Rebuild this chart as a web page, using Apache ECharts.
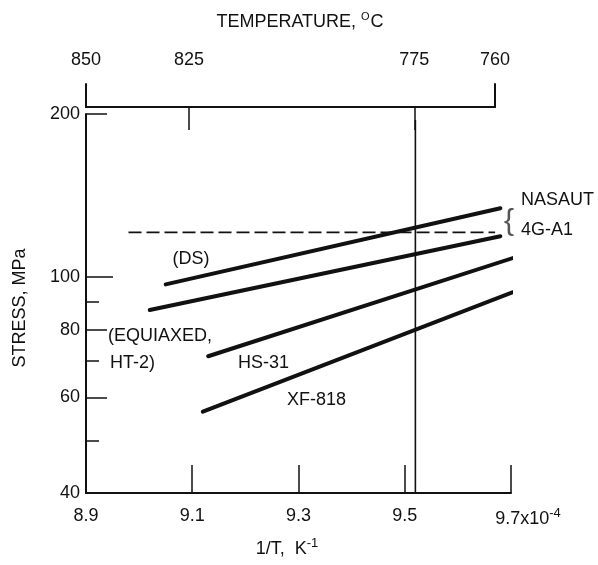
<!DOCTYPE html>
<html><head><meta charset="utf-8">
<script src="https://cdn.jsdelivr.net/npm/echarts@6/dist/echarts.min.js"></script>
<style>html,body{margin:0;padding:0;background:#fff}#c{width:598px;height:565px}</style>
</head><body><div id="c"></div>
<script>
// ---- data ----
const invT_DS = [9.05, 9.68];
const stress_DS = [97, 134];
const invT_HT2 = [9.02, 9.68];
const stress_HT2 = [87, 119];
const invT_HS31 = [9.13, 9.71];
const stress_HS31 = [71.5, 109];
const invT_XF818 = [9.12, 9.73];
const stress_XF818 = [56.5, 96];
const invT_775 = [9.52, 9.52];
const stress_775 = [40, 195];
const invT_ref = [8.98, 9.67];
const stress_ref = [121, 121];

const xTickValues = [9.1, 9.3, 9.5, 9.7];
const xLabelValues = [8.9, 9.1, 9.3, 9.5, 9.7];
const yLabelValues = [40, 60, 80, 100, 200];
const yMajorTicks = [60, 80, 200];
const yLongTicks = [100];
const yMinorTicks = [50, 70, 90];
const tempLabels = ['850', '825', '775', '760'];
const tempPos = [8.9, 9.094, 9.518, 9.67];
const tempTickPos = [9.094, 9.518];

const FONT = '"Liberation Sans", Arial, sans-serif';
const INK = '#111';

const chart = echarts.init(document.getElementById('c'), null, {renderer: 'canvas'});

function seg(x, y, style) {
  return {
    type: 'line', xAxisIndex: 0, yAxisIndex: 0,
    data: x.map((v, i) => [v, y[i]]),
    symbol: 'none', clip: false, silent: true, animation: false,
    lineStyle: Object.assign({color: INK, width: 4, cap: 'round'}, style || {})
  };
}

function tempLabel(v) {
  let best = 0;
  for (let i = 1; i < tempPos.length; i++) if (Math.abs(tempPos[i] - v) < Math.abs(tempPos[best] - v)) best = i;
  return tempLabels[best];
}

const yBase = {gridIndex: 0, type: 'log', logBase: 10, min: 40, max: 200, position: 'left', splitLine: {show: false}};

const option = {
  animation: false,
  backgroundColor: '#fff',
  grid: [
    {left: 86, top: 114, width: 425, height: 379},
    {left: 86, top: 84, width: 409, height: 23}
  ],
  xAxis: [
    {
      gridIndex: 0, type: 'value', min: 8.9, max: 9.7, position: 'bottom',
      splitLine: {show: false},
      axisLine: {lineStyle: {color: INK, width: 2}},
      axisTick: {inside: true, length: 28, customValues: xTickValues, lineStyle: {color: INK, width: 1.5}},
      axisLabel: {
        customValues: xLabelValues, margin: 14, color: INK, fontFamily: FONT, fontSize: 18,
        formatter: function (v) {
          const s = (+v).toFixed(1);
          if (Math.abs(v - 9.7) < 1e-6) return '{pad|}{a|' + s + '}{b|x10}{c|-4}';
          return s;
        },
        rich: {
          pad: {width: 34},
          a: {fontFamily: FONT, fontSize: 18, color: INK},
          b: {fontFamily: FONT, fontSize: 18, color: INK},
          c: {fontFamily: FONT, fontSize: 13, color: INK, verticalAlign: 'top', padding: [0, 0, 12, 0]}
        }
      }
    },
    {
      gridIndex: 1, type: 'value', min: 8.9, max: 9.67, position: 'top',
      splitLine: {show: false},
      axisLine: {lineStyle: {color: INK, width: 2}},
      axisTick: {inside: true, length: 23, customValues: tempTickPos, lineStyle: {color: INK, width: 1.5}},
      axisLabel: {
        customValues: tempPos, margin: 15, color: INK, fontFamily: FONT, fontSize: 18,
        formatter: tempLabel
      }
    }
  ],
  yAxis: [
    Object.assign({}, yBase, {
      axisLine: {show: true, lineStyle: {color: INK, width: 2}},
      axisTick: {show: true, inside: true, length: 21, customValues: yMajorTicks, lineStyle: {color: INK, width: 1.5}},
      axisLabel: {customValues: yLabelValues, margin: 6, color: INK, fontFamily: FONT, fontSize: 18, padding: [7, 0, 0, 0]}
    }),
    Object.assign({}, yBase, {
      axisLine: {show: false},
      axisTick: {show: true, inside: true, length: 27, customValues: yLongTicks, lineStyle: {color: INK, width: 1.5}},
      axisLabel: {show: false}
    }),
    Object.assign({}, yBase, {
      axisLine: {show: false},
      axisTick: {show: true, inside: true, length: 13, customValues: yMinorTicks, lineStyle: {color: INK, width: 1.5}},
      axisLabel: {show: false}
    }),
    {gridIndex: 1, type: 'value', min: 0, max: 1, position: 'left', splitLine: {show: false},
      axisLine: {show: true, lineStyle: {color: INK, width: 2}}, axisTick: {show: false}, axisLabel: {show: false}},
    {gridIndex: 1, type: 'value', min: 0, max: 1, position: 'right', splitLine: {show: false},
      axisLine: {show: true, lineStyle: {color: INK, width: 2}}, axisTick: {show: false}, axisLabel: {show: false}}
  ],
  series: [
    seg(invT_DS, stress_DS),
    seg(invT_HT2, stress_HT2),
    seg(invT_HS31, stress_HS31),
    seg(invT_XF818, stress_XF818),
    seg(invT_775, stress_775, {width: 1.6, cap: 'butt'}),
    seg(invT_ref, stress_ref, {width: 1.6, type: [13, 5], cap: 'butt'})
  ],
  graphic: [
    {type: 'text', x: 300, y: 22, style: {
      text: '{n|TEMPERATURE, }{s|O}{n|C}', align: 'center', verticalAlign: 'middle',
      rich: {
        n: {fontFamily: FONT, fontSize: 18, fill: INK},
        s: {fontFamily: FONT, fontSize: 11, fill: INK, verticalAlign: 'top', padding: [0, 1, 10, 0]}
      }}},
    {type: 'text', x: 20, y: 308, rotation: Math.PI / 2, style: {
      text: 'STRESS, MPa', align: 'center', verticalAlign: 'middle', fontFamily: FONT, fontSize: 18, fill: INK}},
    {type: 'text', x: 287, y: 549, style: {
      text: '{n|1/T,  K}{s|-1}', align: 'center', verticalAlign: 'middle',
      rich: {
        n: {fontFamily: FONT, fontSize: 18, fill: INK},
        s: {fontFamily: FONT, fontSize: 13, fill: INK, verticalAlign: 'top', padding: [0, 0, 12, 0]}
      }}},
    {type: 'text', x: 191, y: 259, style: {text: '(DS)', align: 'center', verticalAlign: 'middle', fontFamily: FONT, fontSize: 18, fill: INK}},
    {type: 'text', x: 108, y: 336, style: {text: '(EQUIAXED,', align: 'left', verticalAlign: 'middle', fontFamily: FONT, fontSize: 18, fill: INK}},
    {type: 'text', x: 110, y: 363, style: {text: 'HT-2)', align: 'left', verticalAlign: 'middle', fontFamily: FONT, fontSize: 18, fill: INK}},
    {type: 'text', x: 238, y: 363, style: {text: 'HS-31', align: 'left', verticalAlign: 'middle', fontFamily: FONT, fontSize: 18, fill: INK}},
    {type: 'text', x: 287, y: 400, style: {text: 'XF-818', align: 'left', verticalAlign: 'middle', fontFamily: FONT, fontSize: 18, fill: INK}},
    {type: 'text', x: 521, y: 200, style: {text: 'NASAUT', align: 'left', verticalAlign: 'middle', fontFamily: FONT, fontSize: 18, fill: INK}},
    {type: 'text', x: 521, y: 230, style: {text: '4G-A1', align: 'left', verticalAlign: 'middle', fontFamily: FONT, fontSize: 18, fill: INK}},
    {type: 'text', x: 509, y: 222, style: {text: '{', align: 'center', verticalAlign: 'middle', fontFamily: FONT, fontSize: 30, fill: '#555'}}
  ]
};
chart.setOption(option);
</script>
</body></html>
